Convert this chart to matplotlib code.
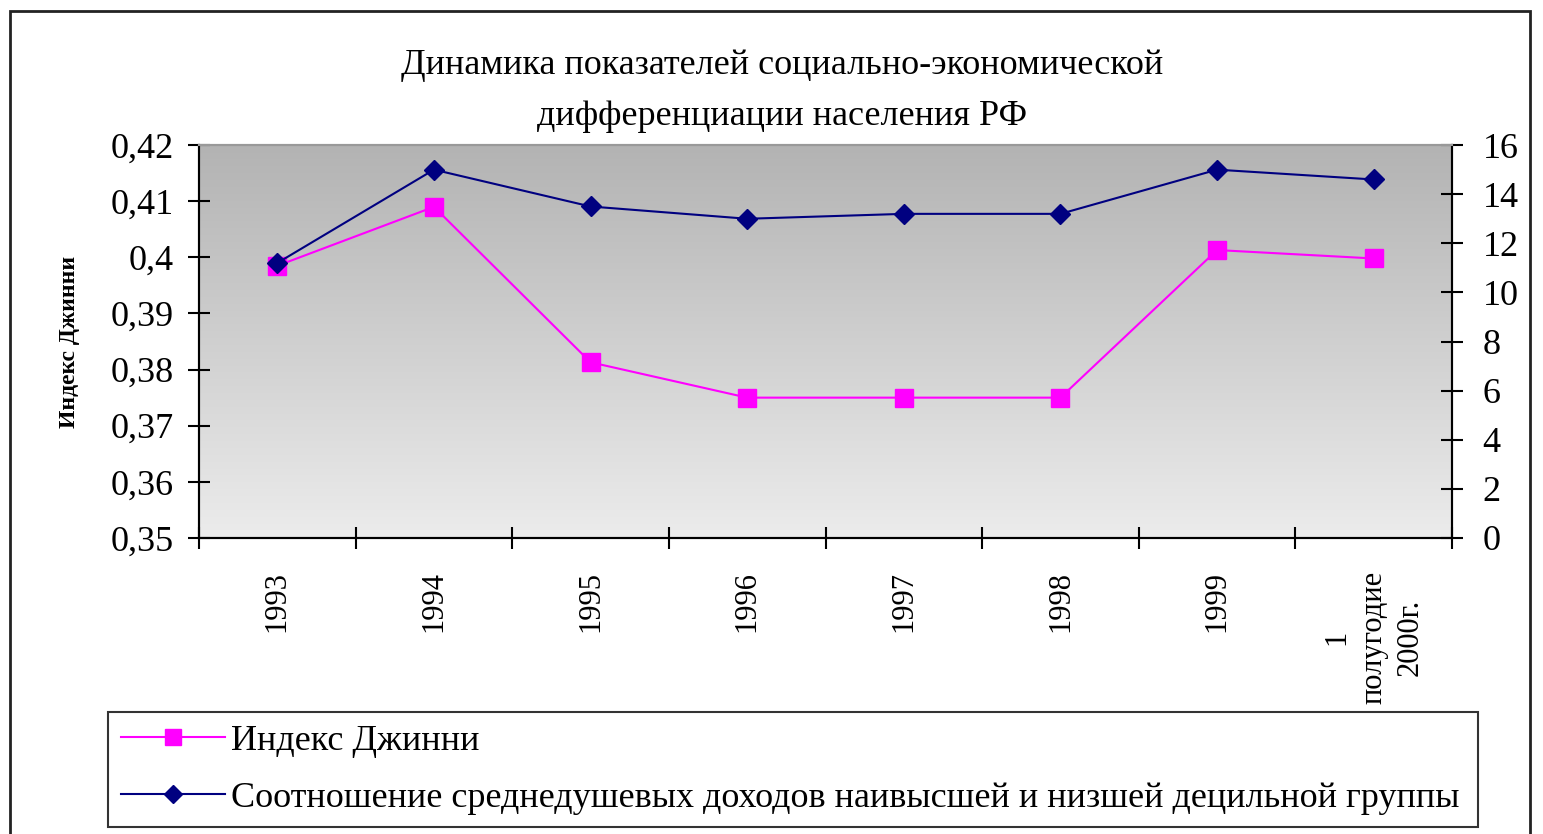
import numpy as np
import matplotlib
matplotlib.use("Agg")
import matplotlib.pyplot as plt
from matplotlib.patches import Rectangle

categories = ["1993", "1994", "1995", "1996", "1997", "1998", "1999",
              "1\nполугодие\n2000г."]
gini = [0.3985, 0.409, 0.3813, 0.375, 0.375, 0.375, 0.4013, 0.3998]
ratio = [11.2, 15.0, 13.5, 13.0, 13.2, 13.2, 15.0, 14.6]

left_ticks = [0.35, 0.36, 0.37, 0.38, 0.39, 0.40, 0.41, 0.42]
left_labels = ["0,35", "0,36", "0,37", "0,38", "0,39", "0,4", "0,41", "0,42"]
right_ticks = [0, 2, 4, 6, 8, 10, 12, 14, 16]

title = "Динамика показателей социально-экономической\nдифференциации населения РФ"
gini_name = "Индекс Джинни"
ratio_name = "Соотношение среднедушевых доходов наивысшей и низшей децильной группы"

plt.rcParams['font.family'] = ['Liberation Serif', 'DejaVu Serif']

fig = plt.figure(figsize=(15.43, 8.34), dpi=100)
ax = fig.add_axes([0.129, 0.355, 0.812, 0.471])
ax2 = ax.twinx()

# gradient background of the plot area
grad = np.linspace(0, 1, 256).reshape(-1, 1)
ax.imshow(grad, cmap=matplotlib.colors.LinearSegmentedColormap.from_list(
    "g", ["#b3b3b3", "#ececec"]), extent=[0, 1, 0, 1], transform=ax.transAxes,
    aspect='auto', zorder=0)

x = np.arange(len(categories)) + 0.5
ax.plot(x, gini, color="#ff00ff", lw=1.5, marker="s", ms=13,
        mfc="#ff00ff", mec="#ff00ff", label=gini_name, zorder=3)
ax2.plot(x, ratio, color="#000080", lw=1.5, marker="D", ms=10,
         mfc="#000080", mec="#000080", label=ratio_name, zorder=3)

ax.set_xlim(0, len(categories))
ax.set_ylim(0.35, 0.42)
ax2.set_ylim(0, 16)
ax.set_yticks(left_ticks)
ax.set_yticklabels(left_labels)
ax2.set_yticks(right_ticks)

ax.set_xticks(np.arange(len(categories) + 1))
ax.set_xticklabels([])
ax.set_xticks(x, minor=True)
ax.set_xticklabels(categories, minor=True, rotation=90, va="top",
                   ha="center", multialignment="center", fontsize=22,
                   linespacing=1.35)
ax.tick_params(axis="x", which="minor", length=0, pad=24)
ax.tick_params(axis="x", which="major", direction="inout", length=16, width=1.5)
ax.tick_params(axis="y", direction="inout", length=16, width=1.5, labelsize=26, pad=10)
ax2.tick_params(axis="y", direction="inout", length=16, width=1.5, labelsize=26, pad=14)

for a in (ax, ax2):
    for s in ("left", "right", "bottom"):
        a.spines[s].set_linewidth(1.5)
        a.spines[s].set_color("black")
    a.spines["top"].set_color("#999999")
    a.spines["top"].set_linewidth(1.5)

ax.set_ylabel(gini_name, fontsize=17, fontweight="bold", labelpad=22)

fig.text(0.507, 0.891, title, ha="center", va="center", fontsize=26,
         linespacing=1.75)

handles = ax.get_lines() + ax2.get_lines()
leg = fig.legend(handles, [gini_name, ratio_name], loc="lower left",
                 bbox_to_anchor=(0.070, 0.008, 0.888, 0.138), mode="expand",
                 fontsize=26, frameon=True, fancybox=False, borderaxespad=0,
                 handlelength=2.9, handletextpad=0.15, labelspacing=0.65,
                 borderpad=0.35, markerscale=0.9)
leg.get_frame().set_edgecolor("black")
leg.get_frame().set_linewidth(1.5)

fig.patches.append(Rectangle((0.0065, -0.01), 0.985, 0.997, transform=fig.transFigure,
                             fill=False, edgecolor="#222222", lw=2))

fig.savefig("out.png", dpi=100)
